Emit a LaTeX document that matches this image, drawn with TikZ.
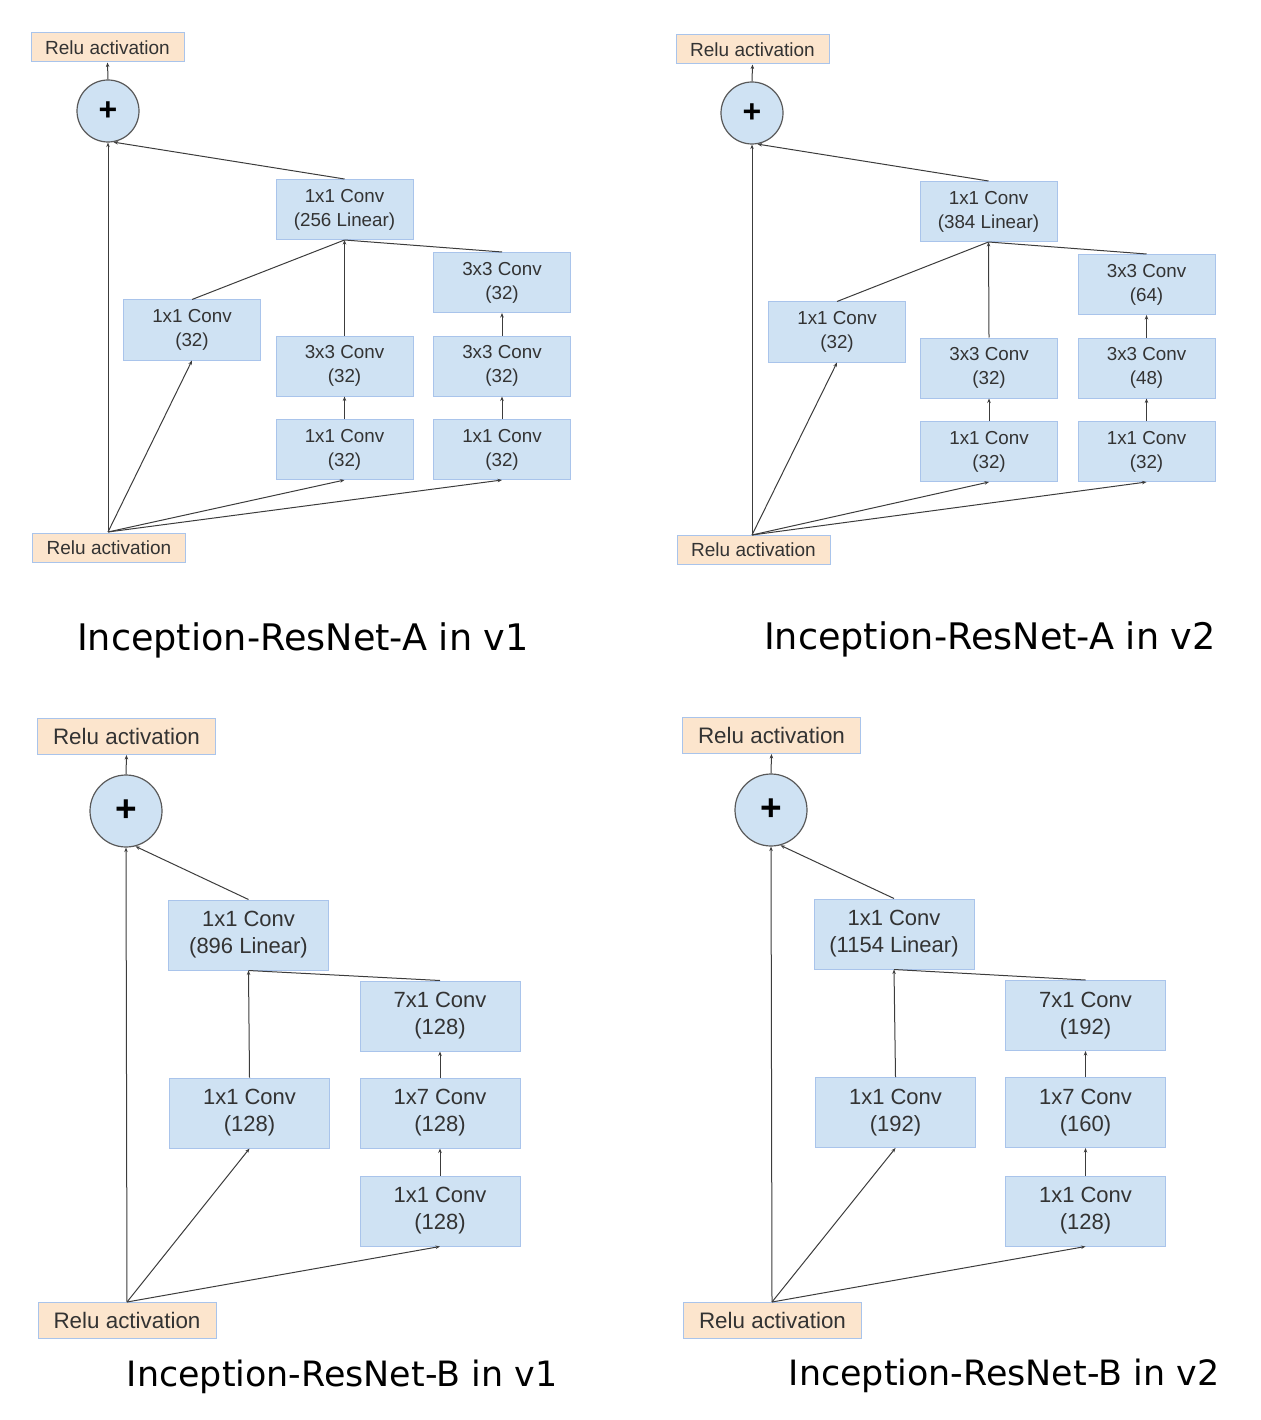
\documentclass[tikz,border=0pt]{standalone}
\usepackage{fontspec}
\setmainfont{Liberation Sans}
\newfontfamily\titlefont{DejaVu Sans}
\usetikzlibrary{arrows.meta}
\definecolor{boxfill}{HTML}{CFE2F3}
\definecolor{boxline}{HTML}{A9C4EB}
\definecolor{relufill}{HTML}{FCE5CD}
\definecolor{edgecol}{HTML}{3C3C3C}
\definecolor{txtcol}{HTML}{333333}
\tikzset{
  convA/.style={draw=boxline, fill=boxfill, line width=1pt, minimum width=137pt, minimum height=60pt, inner sep=0pt, align=center, font=\fontsize{18.8}{24}\selectfont, text=txtcol},
  convB/.style={draw=boxline, fill=boxfill, line width=1pt, minimum width=160pt, minimum height=70pt, inner sep=0pt, align=center, font=\fontsize{22}{27}\selectfont, text=txtcol},
  reluA/.style={draw=boxline, fill=relufill, line width=1pt, minimum width=153pt, minimum height=29pt, inner sep=0pt, font=\fontsize{19}{20}\selectfont, text=txtcol},
  reluB/.style={draw=boxline, fill=relufill, line width=1pt, minimum width=178pt, minimum height=36pt, inner sep=0pt, font=\fontsize{22.4}{24}\selectfont, text=txtcol},
  plusA/.style={circle, draw=edgecol!85, fill=boxfill, line width=1.2pt, minimum size=62pt, inner sep=0pt, font=\fontsize{32}{32}\selectfont\bfseries},
  plusB/.style={circle, draw=edgecol!85, fill=boxfill, line width=1.2pt, minimum size=72pt, inner sep=0pt, font=\fontsize{37}{37}\selectfont\bfseries},
  conn/.style={draw=edgecol, line width=1pt, -{Stealth[length=4.5pt,width=3.5pt]}},
  plain/.style={draw=edgecol, line width=1pt},
  ttlA/.style={font=\titlefont\fontsize{36.6}{40}\selectfont, text=black, inner sep=0pt},
  ttlB/.style={font=\titlefont\fontsize{34.9}{38}\selectfont, text=black, inner sep=0pt}
}
\begin{document}
\begin{tikzpicture}[x=1pt,y=-1pt]
\useasboundingbox (0,0) rectangle (1260,1420);
% ---------------- Panel A v1 ----------------
\node[reluA] (a1rt) at (107.5,47.5) {Relu activation};
\node[plusA] (a1p) at (108,111) {+};
\node[convA] (a1lin) at (344.5,209.5) {1x1 Conv\\(256 Linear)};
\node[convA] (a1l) at (192,330) {1x1 Conv\\(32)};
\node[convA] (a1m2) at (344.5,366) {3x3 Conv\\(32)};
\node[convA] (a1m1) at (344.5,449.5) {1x1 Conv\\(32)};
\node[convA] (a1r3) at (502,282.5) {3x3 Conv\\(32)};
\node[convA] (a1r2) at (502,366) {3x3 Conv\\(32)};
\node[convA] (a1r1) at (502,449.5) {1x1 Conv\\(32)};
\node[reluA] (a1rb) at (109,547.5) {Relu activation};
\node[ttlA] (a1t) at (303,640) {Inception-ResNet-A in v1};
\coordinate (a1s) at (108,532);
\draw[conn] (a1p.north) -- (a1rt.south);
\draw[conn] (a1s) -- (a1p.south);
\draw[conn] (a1s) -- (a1l.south);
\draw[conn] (a1s) -- (a1m1.south);
\draw[conn] (a1s) -- (a1r1.south);
\draw[conn] (a1m1.north) -- (a1m2.south);
\draw[conn] (a1r1.north) -- (a1r2.south);
\draw[conn] (a1r2.north) -- (a1r3.south);
\draw[plain] (a1l.north) -- (a1lin.south);
\draw[plain] (a1r3.north) -- (a1lin.south);
\draw[conn] (a1m2.north) -- (a1lin.south);
\draw[conn] (a1lin.north) -- (a1p.-80);
% ---------------- Panel A v2 ----------------
\node[reluA] (a2rt) at (752.5,49.5) {Relu activation};
\node[plusA] (a2p) at (752,113) {+};
\node[convA] (a2lin) at (988.5,211.5) {1x1 Conv\\(384 Linear)};
\node[convA] (a2l) at (837,332) {1x1 Conv\\(32)};
\node[convA] (a2m2) at (989,368) {3x3 Conv\\(32)};
\node[convA] (a2m1) at (989,451.5) {1x1 Conv\\(32)};
\node[convA] (a2r3) at (1146.5,284.5) {3x3 Conv\\(64)};
\node[convA] (a2r2) at (1146.5,368) {3x3 Conv\\(48)};
\node[convA] (a2r1) at (1146.5,451.5) {1x1 Conv\\(32)};
\node[reluA] (a2rb) at (753.5,550) {Relu activation};
\node[ttlA] (a2t) at (990,639) {Inception-ResNet-A in v2};
\coordinate (a2s) at (752,535);
\draw[conn] (a2p.north) -- (a2rt.south);
\draw[conn] (a2s) -- (a2p.south);
\draw[conn] (a2s) -- (a2l.south);
\draw[conn] (a2s) -- (a2m1.south);
\draw[conn] (a2s) -- (a2r1.south);
\draw[conn] (a2m1.north) -- (a2m2.south);
\draw[conn] (a2r1.north) -- (a2r2.south);
\draw[conn] (a2r2.north) -- (a2r3.south);
\draw[plain] (a2l.north) -- (a2lin.south);
\draw[plain] (a2r3.north) -- (a2lin.south);
\draw[conn] (a2m2.north) -- (a2lin.south);
\draw[conn] (a2lin.north) -- (a2p.-80);
% ---------------- Panel B v1 ----------------
\node[reluB] (b1rt) at (126.5,736.5) {Relu activation};
\node[plusB] (b1p) at (126,811) {+};
\node[convB] (b1lin) at (248.5,935) {1x1 Conv\\(896 Linear)};
\node[convB] (b1l) at (249.5,1113) {1x1 Conv\\(128)};
\node[convB] (b1r3) at (440,1016) {7x1 Conv\\(128)};
\node[convB] (b1r2) at (440,1113) {1x7 Conv\\(128)};
\node[convB] (b1r1) at (440,1211) {1x1 Conv\\(128)};
\node[reluB] (b1rb) at (127,1320) {Relu activation};
\node[ttlB] (b1t) at (342,1377) {Inception-ResNet-B in v1};
\coordinate (b1s) at (127,1302);
\draw[conn] (b1p.north) -- (b1rt.south);
\draw[conn] (b1s) -- (b1p.south);
\draw[conn] (b1s) -- (b1l.south);
\draw[conn] (b1s) -- (b1r1.south);
\draw[conn] (b1r1.north) -- (b1r2.south);
\draw[conn] (b1r2.north) -- (b1r3.south);
\draw[plain] (b1r3.north) -- (b1lin.south);
\draw[conn] (b1l.north) -- (b1lin.south);
\draw[conn] (b1lin.north) -- (b1p.-75);
% ---------------- Panel B v2 ----------------
\node[reluB] (b2rt) at (771.5,735.5) {Relu activation};
\node[plusB] (b2p) at (771,810) {+};
\node[convB] (b2lin) at (894,934) {1x1 Conv\\(1154 Linear)};
\node[convB] (b2l) at (895.5,1112.5) {1x1 Conv\\(192)};
\node[convB] (b2r3) at (1085.5,1015.5) {7x1 Conv\\(192)};
\node[convB] (b2r2) at (1085.5,1112.5) {1x7 Conv\\(160)};
\node[convB] (b2r1) at (1085.5,1211) {1x1 Conv\\(128)};
\node[reluB] (b2rb) at (772.5,1320) {Relu activation};
\node[ttlB] (b2t) at (1004,1376) {Inception-ResNet-B in v2};
\coordinate (b2s) at (772,1302);
\draw[conn] (b2p.north) -- (b2rt.south);
\draw[conn] (b2s) -- (b2p.south);
\draw[conn] (b2s) -- (b2l.south);
\draw[conn] (b2s) -- (b2r1.south);
\draw[conn] (b2r1.north) -- (b2r2.south);
\draw[conn] (b2r2.north) -- (b2r3.south);
\draw[plain] (b2r3.north) -- (b2lin.south);
\draw[conn] (b2l.north) -- (b2lin.south);
\draw[conn] (b2lin.north) -- (b2p.-75);
\end{tikzpicture}
\end{document}
